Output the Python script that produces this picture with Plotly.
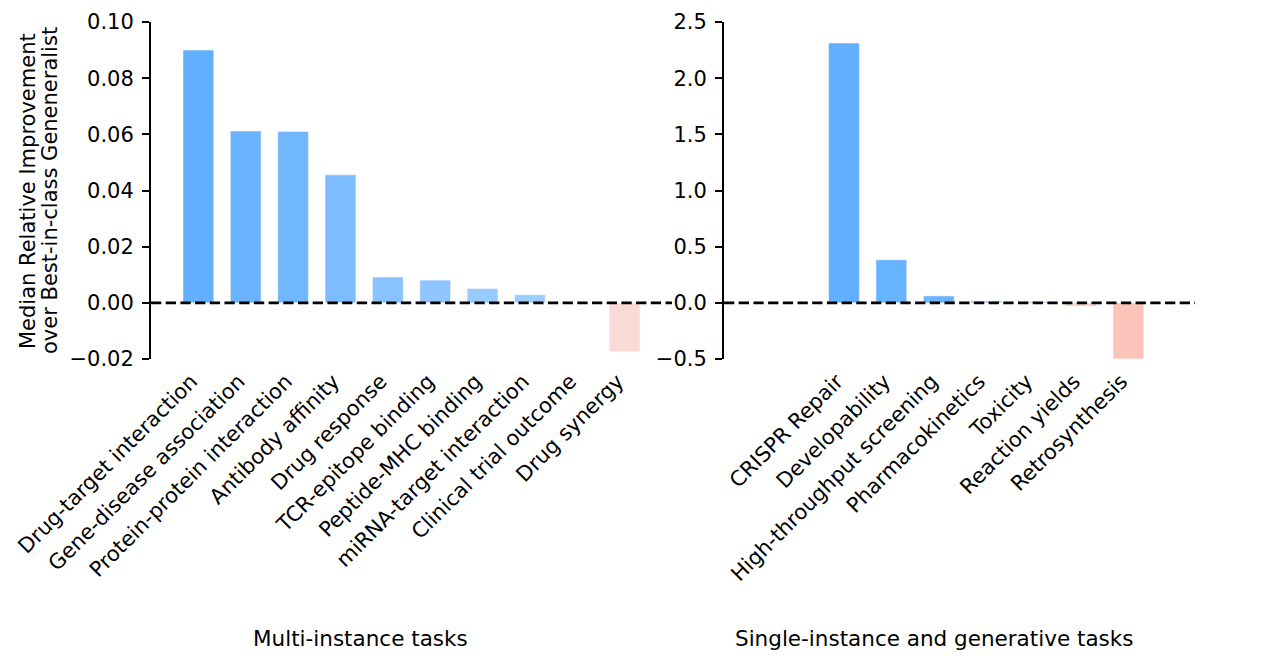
import plotly.graph_objects as go

# left panel: multi-instance tasks
multi_tasks = [
    "Drug-target interaction", "Gene-disease association", "Protein-protein interaction",
    "Antibody affinity", "Drug response", "TCR-epitope binding", "Peptide-MHC binding",
    "miRNA-target interaction", "Clinical trial outcome", "Drug synergy",
]
multi_values = [0.090, 0.0612, 0.0610, 0.0456, 0.0092, 0.0081, 0.0051, 0.0029, 0.0, -0.0174]

# right panel: single-instance and generative tasks
single_tasks = [
    "CRISPR Repair", "Developability", "High-throughput screening", "Pharmacokinetics",
    "Toxicity", "Reaction yields", "Retrosynthesis",
]
single_values = [2.313, 0.383, 0.062, 0.015, 0.010, -0.030, -0.500]

left_ticks = [-0.02, 0.0, 0.02, 0.04, 0.06, 0.08, 0.10]
left_ticktext = ["\u22120.02", "0.00", "0.02", "0.04", "0.06", "0.08", "0.10"]
right_ticks = [-0.5, 0.0, 0.5, 1.0, 1.5, 2.0, 2.5]
right_ticktext = ["\u22120.5", "0.0", "0.5", "1.0", "1.5", "2.0", "2.5"]

multi_colors = ["#61AFFE", "#6AB4FE", "#71B7FE", "#7DBDFF", "#88C2FF", "#8EC5FF",
                "#97CAFF", "#9DCCFF", "#FCE8E5", "#F9DAD5"]
single_colors = ["#61AFFE", "#68B3FE", "#6BB4FE", "#6DB5FE", "#70B6FE", "#F9D2CB", "#FBC4BB"]

FONT = "DejaVu Sans"
# the page body has an 8px margin, so work in page pixels and shift by OFF
OFF = 8
W, H = 1262 - OFF, 664 - OFF


def px(x):
    return (x - OFF) / W


def py(y):
    return (H - (y - OFF)) / H


fig = go.Figure()
fig.add_trace(go.Bar(
    x=multi_tasks, y=multi_values, width=0.65, xaxis="x", yaxis="y",
    marker=dict(color=multi_colors, line=dict(color="rgba(255,255,255,0.5)", width=1)),
    showlegend=False,
))
fig.add_trace(go.Bar(
    x=single_tasks, y=single_values, width=0.65, xaxis="x2", yaxis="y2",
    marker=dict(color=single_colors, line=dict(color="rgba(255,255,255,0.5)", width=1)),
    showlegend=False,
))

ydom = [py(359), py(22)]
common_x = dict(
    type="category", showline=False, showgrid=False, zeroline=False, ticks="",
    tickangle=-45, tickfont=dict(family=FONT, size=21, color="black"),
    automargin=False, ticklabelstandoff=5, ticklabelshift=-7,
)
common_y = dict(
    showline=True, linecolor="black", linewidth=2, ticks="outside", ticklen=7,
    tickwidth=2, tickcolor="black", showgrid=False, zeroline=False,
    tickfont=dict(family=FONT, size=21, color="black"), ticklabelstandoff=4,
    automargin=False,
)

fig.update_layout(
    width=W, height=H,
    margin=dict(l=0, r=0, t=0, b=0),
    paper_bgcolor="white", plot_bgcolor="white",
    font=dict(family=FONT, size=21, color="black"),
    xaxis=dict(domain=[px(151), px(672)], anchor="y", range=[-1, 10], **common_x),
    xaxis2=dict(domain=[px(724), px(1195)], anchor="y2", range=[-2.53, 7.405], **common_x),
    yaxis=dict(domain=ydom, anchor="x", range=[-0.02, 0.10],
               tickvals=left_ticks, ticktext=left_ticktext, **common_y),
    yaxis2=dict(domain=ydom, anchor="x2", range=[-0.5, 2.5],
                tickvals=right_ticks, ticktext=right_ticktext, **common_y),
    shapes=[
        dict(type="line", xref="x domain", yref="y", x0=0, x1=1, y0=0, y1=0,
             line=dict(color="black", width=2.8, dash="10.3px,4.4px")),
        dict(type="line", xref="x2 domain", yref="y2", x0=0, x1=1, y0=0, y1=0,
             line=dict(color="black", width=2.8, dash="10.3px,4.4px")),
    ],
    annotations=[
        dict(text="Median Relative Improvement", textangle=-90, x=px(28), y=py(191),
             xref="paper", yref="paper", showarrow=False, xanchor="center", yanchor="middle",
             font=dict(family=FONT, size=21)),
        dict(text="over Best-in-class Geneneralist", textangle=-90, x=px(50), y=py(191),
             xref="paper", yref="paper", showarrow=False, xanchor="center", yanchor="middle",
             font=dict(family=FONT, size=21)),
        dict(text="Multi-instance tasks", x=px(360.5), y=py(638), xref="paper",
             yref="paper", showarrow=False, xanchor="center", yanchor="middle",
             font=dict(family=FONT, size=21.5)),
        dict(text="Single-instance and generative tasks", x=px(934), y=py(638), xref="paper",
             yref="paper", showarrow=False, xanchor="center", yanchor="middle",
             font=dict(family=FONT, size=21.5)),
    ],
)

fig.write_html("out.html")
